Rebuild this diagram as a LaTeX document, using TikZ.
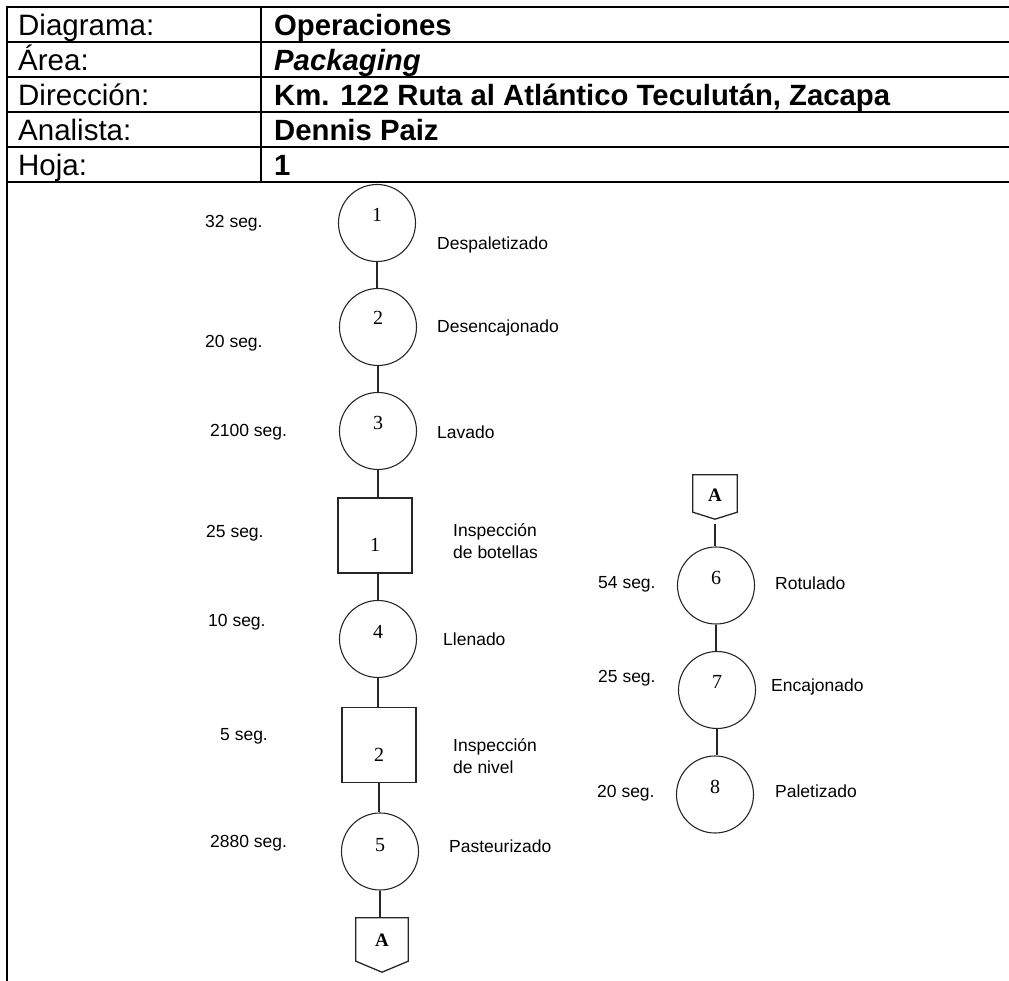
\documentclass[tikz,border=0pt]{standalone}
\usepackage{fontspec}
\setmainfont{Liberation Sans}
\newfontfamily\serifnum{Liberation Serif}
\usetikzlibrary{calc}
\begin{document}
\begin{tikzpicture}[x=1pt,y=-1pt,
  frame/.style={line width=2pt,black},
  hdr/.style={anchor=base west,inner sep=0pt,font=\fontsize{29.5}{31}\selectfont},
  hdrval/.style={anchor=base west,inner sep=0pt,font=\fontsize{29.3}{31}\selectfont\bfseries},
  opcircle/.style={circle,draw=black!85,line width=1.1pt,minimum size=77pt,inner sep=0pt},
  inspbox/.style={rectangle,draw=black!85,line width=1.1pt,minimum width=74pt,minimum height=75pt,inner sep=0pt},
  num/.style={font=\serifnum\fontsize{20}{20}\selectfont,inner sep=0pt},
  conn/.style={font=\serifnum\bfseries\fontsize{19}{19}\selectfont,inner sep=0pt},
  lbl/.style={anchor=west,inner sep=0pt,font=\fontsize{17.5}{22}\selectfont,align=left},
  flow/.style={draw=black!85,line width=1.3pt},
  offpage/.style={draw=none,inner sep=0pt}
]
\useasboundingbox (0,0) rectangle (1009,981);

% header table
\foreach \yy in {7,42,77,112,147,182} \draw[frame] (7,\yy) -- (1012,\yy);
\draw[frame] (7,6) -- (7,984);
\draw[frame] (261,7) -- (261,182);

\node[hdr] (k1) at (18,35.5) {Diagrama:};
\node[hdr] (k2) at (18,70.5) {Área:};
\node[hdr] (k3) at (18,105.5) {Dirección:};
\node[hdr] (k4) at (18,140.5) {Analista:};
\node[hdr] (k5) at (18,175.5) {Hoja:};
\node[hdrval] (v1) at (274,35.5) {Operaciones};
\node[hdrval] (v2) at (274,70.5) {\itshape Packaging};
\node[hdrval] (v3) at (274,105.5) {Km. 122 Ruta al Atlántico Teculután, Zacapa};
\node[hdrval] (v4) at (274,140.5) {Dennis Paiz};
\node[hdrval] (v5) at (274,175.5) {1};

% main line
\node[opcircle] (c1) at (377,223) {};
\node[opcircle] (c2) at (378,327) {};
\node[opcircle] (c3) at (378,431) {};
\node[inspbox] (s1) at (375,535.5) {};
\node[opcircle] (c4) at (378,639) {};
\node[inspbox] (s2) at (379,745) {};
\node[opcircle] (c5) at (380,851.5) {};
\node[offpage,minimum width=52pt,minimum height=43pt] (oA) at (382,939.5) {};

\node[num] (n1) at ($(c1)+(0,-8)$) {1};
\node[num] (n2) at ($(c2)+(0,-9)$) {2};
\node[num] (n3) at ($(c3)+(0,-8)$) {3};
\node[num] (m1) at ($(s1)+(0,9)$) {1};
\node[num] (n4) at ($(c4)+(0,-7)$) {4};
\node[num] (m2) at ($(s2)+(0,10)$) {2};
\node[num] (n5) at ($(c5)+(0,-6)$) {5};
\node[conn] (tA) at (382,940) {A};

\draw[flow] (oA.north west) -- (oA.north east) -- (oA.south east)
  -- ($(oA.south)+(0,11)$) -- (oA.south west) -- cycle;

\draw[flow] (c1.south) -- (c1.south |- c2.north);
\draw[flow] (c2.south) -- (c2.south |- c3.north);
\draw[flow] (c3.south) -- (c3.south |- s1.north);
\draw[flow] (s1.south -| c4.north) -- (c4.north);
\draw[flow] (c4.south) -- (c4.south |- s2.north);
\draw[flow] (s2.south) -- (s2.south |- c5.north);
\draw[flow] (c5.south) -- (c5.south |- oA.north);

% second line
\node[offpage,minimum width=44pt,minimum height=37pt] (oB) at (715,493.5) {};
\coordinate (oBtip) at ($(oB.south)+(0,7)$);
\draw[flow] (oB.north west) -- (oB.north east) -- (oB.south east)
  -- (oBtip) -- (oB.south west) -- cycle;
\node[conn] (tB) at (715,495) {A};

\node[opcircle] (c6) at (716,585.5) {};
\node[opcircle] (c7) at (717,690) {};
\node[opcircle] (c8) at (715,794.5) {};
\node[num] (n6) at ($(c6)+(0,-8)$) {6};
\node[num] (n7) at ($(c7)+(0,-8)$) {7};
\node[num] (n8) at ($(c8)+(0,-8)$) {8};

\draw[flow,shorten <=5pt] (oBtip) -- (oBtip |- c6.north);
\draw[flow] (c6.south) -- (c6.south |- c7.north);
\draw[flow] (c7.south) -- (c7.south |- c8.north);

% times
\node[lbl] (t1) at (205,223) {32 seg.};
\node[lbl] (t2) at (205,343) {20 seg.};
\node[lbl] (t3) at (210,432) {2100 seg.};
\node[lbl] (t4) at (206,533) {25 seg.};
\node[lbl] (t5) at (208,622) {10 seg.};
\node[lbl] (t6) at (220,736) {5 seg.};
\node[lbl] (t7) at (210,843) {2880 seg.};
\node[lbl] (t8) at (598,584) {54 seg.};
\node[lbl] (t9) at (598,678) {25 seg.};
\node[lbl] (t10) at (597,793) {20 seg.};

% activity names
\node[lbl] (d1) at (437,245) {Despaletizado};
\node[lbl] (d2) at (437,328) {Desencajonado};
\node[lbl] (d3) at (437,432) {Lavado};
\node[lbl] (d4) at (453,541) {Inspección\\de botellas};
\node[lbl] (d5) at (443,639) {Llenado};
\node[lbl] (d6) at (453,756) {Inspección\\de nivel};
\node[lbl] (d7) at (449,846) {Pasteurizado};
\node[lbl] (d8) at (775,583) {Rotulado};
\node[lbl] (d9) at (771,687) {Encajonado};
\node[lbl] (d10) at (775,791) {Paletizado};
\end{tikzpicture}
\end{document}
